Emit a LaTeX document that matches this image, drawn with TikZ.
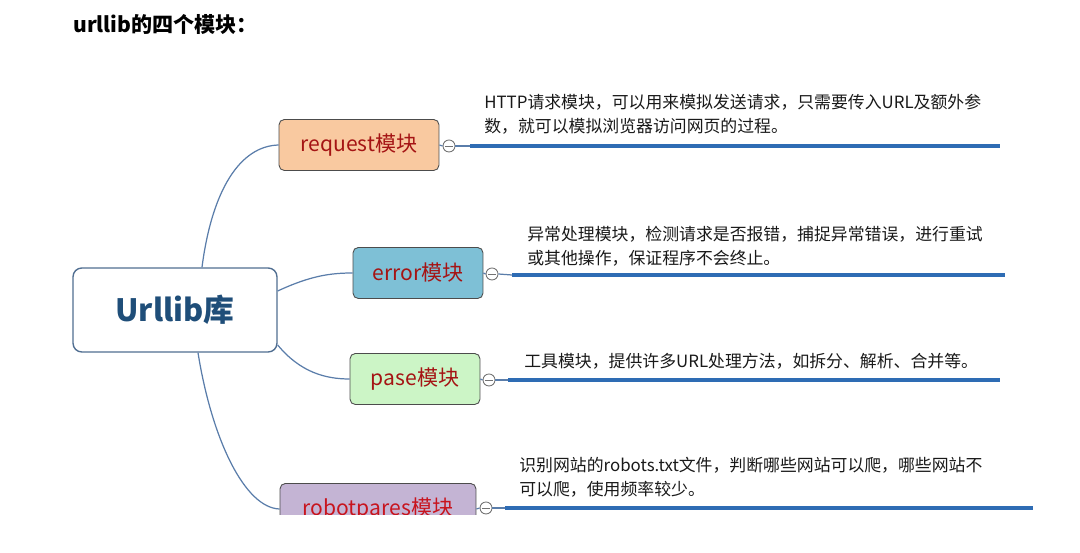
\documentclass[tikz,border=0pt]{standalone}
\usepackage{fontspec}
\setmainfont{Noto Sans CJK SC}
\definecolor{rootline}{RGB}{80,110,145}
\definecolor{roottext}{RGB}{31,78,121}
\definecolor{branch}{RGB}{90,125,170}
\definecolor{barblue}{RGB}{46,108,180}
\definecolor{reqfill}{RGB}{249,201,160}
\definecolor{errfill}{RGB}{126,192,214}
\definecolor{pasefill}{RGB}{204,245,198}
\definecolor{robfill}{RGB}{196,180,212}
\definecolor{modtext}{RGB}{165,20,20}
\begin{document}
\begin{tikzpicture}[x=0.02cm, y=-0.02cm,
      root/.style={draw=rootline, line width=0.8pt, rounded corners=5pt, fill=white, minimum width=4.08cm, minimum height=1.68cm, font=\fontsize{17.5}{20}\selectfont\bfseries, text=roottext},
      module/.style={draw=black!70, line width=0.5pt, rounded corners=3pt, minimum height=1.02cm, font=\fontsize{12}{14}\selectfont, text=modtext},
      fold/.style={circle, draw=black!55, fill=white, line width=0.5pt, minimum size=0.24cm, inner sep=0pt},
      note/.style={anchor=north west, inner sep=0pt, align=left, font=\fontsize{9.6}{13.4}\selectfont, text=black!90},
      link/.style={draw=branch, line width=0.7pt},
      notebar/.style={draw=barblue, line width=2.4pt}]
    \useasboundingbox (0,0) rectangle (1080,553);
    \node[anchor=west, inner sep=0pt, font=\fontsize{12}{14}\selectfont\bfseries] (title) at (73,25) {urllib的四个模块：};
    \node[root] (lib) at (175,310) {Urllib库};
    \node[module, fill=reqfill, minimum width=3.2cm] (request) at (359,145) {request模块};
    \node[module, fill=errfill, minimum width=2.6cm] (error) at (418,273) {error模块};
    \node[module, fill=pasefill, minimum width=2.6cm] (pase) at (415,379) {pase模块};
    \begin{scope}
      \clip (0,0) rectangle (1080,515);
      \node[module, fill=robfill, minimum width=3.92cm, text={rgb,255:red,200;green,20;blue,30}] (robot) at (378,509) {robotpares模块};
    \end{scope}
    % branches
    \draw[link] ([xshift=0.54cm]lib.north) .. controls (212,190) and (240,146) .. (request.west);
    \draw[link] ([yshift=0.38cm]lib.east) .. controls (310,276) and (330,273) .. (error.west);
    \draw[link] ([yshift=-0.7cm]lib.east) .. controls (300,372) and (325,379) .. (pase.west);
    \draw[link] ([xshift=0.46cm]lib.south) .. controls (212,440) and (245,508) .. (robot.west);
    % fold buttons
    \node[fold] (reqfold) at (449,146) {};
    \node[fold] (errfold) at (492,274) {};
    \node[fold] (pasefold) at (489,380) {};
    \node[fold] (robfold) at (486,508) {};
    \foreach \f in {reqfold, errfold, pasefold, robfold}
      \draw[black!55, line width=0.5pt] ([xshift=1.6pt]\f.west) -- ([xshift=-1.6pt]\f.east);
    \draw[link] (request.east) -- (reqfold.west);
    \draw[link] (error.east) -- (errfold.west);
    \draw[link] (pase.east) -- (pasefold.west);
    \draw[link] (robot.east) -- (robfold.west);
    % note bars
    \coordinate (reqend) at (1000,146);
    \coordinate (errend) at (1005,275);
    \coordinate (paseend) at (1000,380);
    \coordinate (robend) at (1033,508);
    \draw[link] (reqfold.east) -- (470,146);
    \draw[notebar] (470,146) -- (reqend);
    \draw[link] (errfold.east) -- (512,275);
    \draw[notebar] (512,275) -- (errend);
    \draw[link] (pasefold.east) -- (508,380);
    \draw[notebar] (508,380) -- (paseend);
    \draw[link] (robfold.east) -- (505,508);
    \draw[notebar] (505,508) -- (robend);
    % notes
    \node[note] (reqnote) at (484,94) {HTTP请求模块，可以用来模拟发送请求，只需要传入URL及额外参\\数，就可以模拟浏览器访问网页的过程。};
    \node[note] (errnote) at (527,226) {异常处理模块，检测请求是否报错，捕捉异常错误，进行重试\\或其他操作，保证程序不会终止。};
    \node[note] (pasenote) at (524,353) {工具模块，提供许多URL处理方法，如拆分、解析、合并等。};
    \node[note] (robnote) at (519,457) {识别网站的robots.txt文件，判断哪些网站可以爬，哪些网站不\\可以爬，使用频率较少。};
  \end{tikzpicture}
\end{document}
